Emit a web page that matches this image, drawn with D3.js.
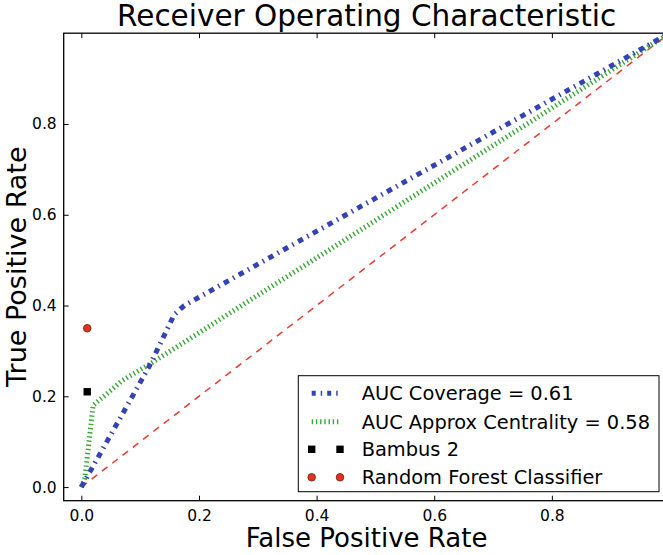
<!DOCTYPE html>
<html>
<head>
<meta charset="utf-8">
<script src="https://cdn.jsdelivr.net/npm/d3@7"></script>
<style>
  body { margin: 0; background: #fff; }
  svg { display: block; font-family: "DejaVu Sans", sans-serif; }
</style>
</head>
<body>
<div id="chart"></div>
<script>
var width = 663;
var height = 555;

// curves
var coverageFpr = [0, 0.115, 0.158, 0.175, 1];
var coverageTpr = [0, 0.265, 0.38, 0.40, 1];
var centralityFpr = [0, 0.006, 0.02, 0.07, 0.115, 1];
var centralityTpr = [0, 0.02, 0.18, 0.235, 0.27, 1];
var chanceFpr = [0, 1];
var chanceTpr = [0, 1];
var bambusPoint = [0.01, 0.21];
var forestPoint = [0.01, 0.35];

var xTicks = [0, 0.2, 0.4, 0.6, 0.8];
var yTicks = [0, 0.2, 0.4, 0.6, 0.8];
var legendLabels = ["AUC Coverage = 0.61", "AUC Approx Centrality = 0.58", "Bambus 2", "Random Forest Classifier"];

// plot box, the right edge runs a bit past the window
var plotLeft = 63.7, plotTop = 33.2, plotRight = 669.5, plotBottom = 500.7;

function toPoints(xs, ys) {
	return xs.map(function (d, i) { return [d, ys[i]]; });
}

function drawChart(placement) {
	var svg = d3.select(placement)
		.append("svg")
		.attr("width", width)
		.attr("height", height);

	var x = d3.scaleLinear().domain([-0.03, 1.0]).range([plotLeft, plotRight]);
	var y = d3.scaleLinear().domain([-0.03, 1.0]).range([plotBottom, plotTop]);

	svg.append("defs").append("clipPath")
		.attr("id", "plotclip")
		.append("rect")
		.attr("x", plotLeft).attr("y", plotTop)
		.attr("width", plotRight - plotLeft).attr("height", plotBottom - plotTop);

	var line = d3.line()
		.x(function (d) { return x(d[0]); })
		.y(function (d) { return y(d[1]); });

	var plot = svg.append("g").attr("clip-path", "url(#plotclip)");

	plot.append("path")
		.datum(toPoints(chanceFpr, chanceTpr))
		.attr("d", line)
		.attr("fill", "none")
		.attr("stroke", "#ec3a30")
		.attr("stroke-width", 1.5)
		.attr("stroke-dasharray", "7,6");

	plot.append("path")
		.datum(toPoints(centralityFpr, centralityTpr))
		.attr("d", line)
		.attr("fill", "none")
		.attr("stroke", "#38a836")
		.attr("stroke-width", 5)
		.attr("stroke-dasharray", "1.4,2.8");

	plot.append("path")
		.datum(toPoints(coverageFpr, coverageTpr))
		.attr("d", line)
		.attr("fill", "none")
		.attr("stroke", "#3443b3")
		.attr("stroke-width", 5)
		.attr("stroke-dasharray", "5.5,5,1.5,5");

	plot.append("rect")
		.attr("x", x(bambusPoint[0]) - 3.7)
		.attr("y", y(bambusPoint[1]) - 3.7)
		.attr("width", 7.4).attr("height", 7.4)
		.attr("fill", "#000");

	plot.append("circle")
		.attr("cx", x(forestPoint[0]))
		.attr("cy", y(forestPoint[1]))
		.attr("r", 3.8)
		.attr("fill", "#e0321f")
		.attr("stroke", "#7a1a10")
		.attr("stroke-width", 0.8);

	// axes, ticks pointing inward like the old matplotlib style
	var xAxis = svg.append("g")
		.attr("transform", "translate(0," + plotBottom + ")")
		.call(d3.axisBottom(x).tickValues(xTicks).tickFormat(d3.format(".1f")).tickSizeInner(-5).tickSizeOuter(0).tickPadding(9));
	var yAxis = svg.append("g")
		.attr("transform", "translate(" + plotLeft + ",0)")
		.call(d3.axisLeft(y).tickValues(yTicks).tickFormat(d3.format(".1f")).tickSizeInner(-5).tickSizeOuter(0).tickPadding(7));
	var topAxis = svg.append("g")
		.attr("transform", "translate(0," + plotTop + ")")
		.call(d3.axisTop(x).tickValues(xTicks).tickFormat("").tickSizeInner(-5).tickSizeOuter(0));
	var rightAxis = svg.append("g")
		.attr("transform", "translate(" + plotRight + ",0)")
		.call(d3.axisRight(y).tickValues(yTicks).tickFormat("").tickSizeInner(-5).tickSizeOuter(0));

	[xAxis, yAxis, topAxis, rightAxis].forEach(function (a) {
		a.select(".domain").remove();
		a.selectAll(".tick line").attr("stroke", "#000").attr("stroke-width", 1);
		a.selectAll(".tick text").attr("fill", "#000").style("font-size", "15.5px").style("font-family", "DejaVu Sans");
	});

	svg.append("rect")
		.attr("x", plotLeft).attr("y", plotTop)
		.attr("width", plotRight - plotLeft).attr("height", plotBottom - plotTop)
		.attr("fill", "none")
		.attr("stroke", "#000")
		.attr("stroke-width", 1.3);

	svg.append("text")
		.attr("x", (plotLeft + plotRight) / 2)
		.attr("y", 26)
		.attr("text-anchor", "middle")
		.style("font-size", "29.5px")
		.text("Receiver Operating Characteristic");

	svg.append("text")
		.attr("x", (plotLeft + plotRight) / 2)
		.attr("y", 547)
		.attr("text-anchor", "middle")
		.style("font-size", "26px")
		.text("False Positive Rate");

	svg.append("text")
		.attr("transform", "translate(25.5,266.7) rotate(-90)")
		.attr("text-anchor", "middle")
		.style("font-size", "27px")
		.text("True Positive Rate");

	// legend
	var lg = svg.append("g");
	lg.append("rect")
		.attr("x", 298.3).attr("y", 375.7)
		.attr("width", 360.7).attr("height", 116)
		.attr("fill", "#fff")
		.attr("stroke", "#000")
		.attr("stroke-width", 1);

	var rowY = [393.3, 421.7, 449.3, 477.3];
	var h0 = 311.7, h1 = 340;

	lg.append("line")
		.attr("x1", h0).attr("x2", h1 + 2)
		.attr("y1", rowY[0]).attr("y2", rowY[0])
		.attr("stroke", "#3443b3").attr("stroke-width", 5)
		.attr("stroke-dasharray", "4,5,1.5,5");
	lg.append("line")
		.attr("x1", h0).attr("x2", h1)
		.attr("y1", rowY[1]).attr("y2", rowY[1])
		.attr("stroke", "#38a836").attr("stroke-width", 5)
		.attr("stroke-dasharray", "1.4,2.8");
	[h0, h1].forEach(function (hx) {
		lg.append("rect")
			.attr("x", hx - 3.7).attr("y", rowY[2] - 3.7)
			.attr("width", 7.4).attr("height", 7.4)
			.attr("fill", "#000");
		lg.append("circle")
			.attr("cx", hx).attr("cy", rowY[3])
			.attr("r", 3.8)
			.attr("fill", "#e0321f")
			.attr("stroke", "#7a1a10")
			.attr("stroke-width", 0.8);
	});

	lg.selectAll("text.lab")
		.data(legendLabels)
		.enter()
		.append("text")
		.attr("class", "lab")
		.attr("x", 361.7)
		.attr("y", function (d, i) { return rowY[i]; })
		.attr("dy", "0.36em")
		.style("font-size", "19.4px")
		.text(function (d) { return d; });
}

drawChart("#chart");
</script>
</body>
</html>
